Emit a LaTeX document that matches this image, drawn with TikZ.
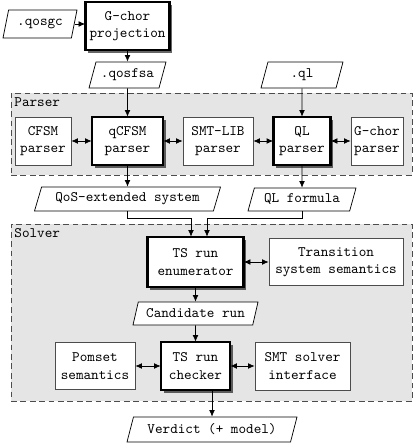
\documentclass[tikz,border=0pt]{standalone}
\usetikzlibrary{shapes.geometric,shadows,arrows.meta}
\newcommand\pxl{0.0243cm}
\begin{document}
\begin{tikzpicture}[x=0.0243cm,y=-0.0243cm,
  box/.style={draw=black!70, line width=0.5pt, fill=white, align=center,
    font=\ttfamily, inner sep=0pt, minimum height=48*\pxl},
  mainbox/.style={box, draw=black,
    drop shadow={shadow xshift=1.8pt, shadow yshift=-1.8pt, fill=black, opacity=0.6},
    postaction={draw=black, line width=1.6pt}},
  io/.style={draw=black, line width=0.5pt, fill=white, font=\ttfamily,
    trapezium, trapezium left angle=60, trapezium right angle=120,
    trapezium stretches body, inner sep=0pt},
  group/.style={draw=black!70, line width=0.6pt, dash pattern=on 4pt off 2.5pt,
    fill=black!10, inner sep=0pt},
  grouplbl/.style={anchor=north west, font=\ttfamily, inner xsep=2.5pt, inner ysep=3.5pt},
  arr/.style={-{Latex[length=4.5pt,width=4pt]}, line width=0.5pt},
  biarr/.style={{Latex[length=4.5pt,width=4pt]}-{Latex[length=4.5pt,width=4pt]}, line width=0.5pt}]
\useasboundingbox (0,0) rectangle (415,445);
% containers
\node[group, minimum width=401*\pxl, minimum height=82*\pxl] (parser) at (211.5,134) {};
\node[grouplbl] (parserlbl) at (parser.north west) {Parser};
\node[group, minimum width=401*\pxl, minimum height=177*\pxl] (solver) at (211.5,312.5) {};
\node[grouplbl] (solverlbl) at (solver.north west) {Solver};
% top
\node[mainbox, minimum width=84*\pxl] (gchorproj) at (127.5,26) {G-chor\\projection};
\node[io, minimum width=74*\pxl, minimum height=28*\pxl] (qosgc) at (40,24) {.qosgc};
\node[io, minimum width=77*\pxl, minimum height=26*\pxl] (qosfsa) at (127.5,75) {.qosfsa};
\node[io, minimum width=82*\pxl, minimum height=26*\pxl] (ql) at (302,75) {.ql};
% parsers
\node[box, minimum width=56*\pxl] (cfsm) at (43,141) {CFSM\\parser};
\node[mainbox, minimum width=71*\pxl] (qcfsm) at (127.5,141) {qCFSM\\parser};
\node[box, minimum width=70*\pxl] (smtlib) at (218,141) {SMT-LIB\\parser};
\node[mainbox, minimum width=57*\pxl] (qlparser) at (302,141) {QL\\parser};
\node[box, minimum width=52*\pxl] (gchorparser) at (377,141) {G-chor\\parser};
% intermediate
\node[io, minimum width=186*\pxl, minimum height=24*\pxl] (qos) at (127.5,199) {QoS-extended system};
\node[io, minimum width=108*\pxl, minimum height=23*\pxl] (qlformula) at (302,199.5) {QL formula};
% solver
\node[mainbox, minimum width=96*\pxl, minimum height=50*\pxl] (enum) at (195.5,262) {TS run\\enumerator};
\node[box, minimum width=134*\pxl, minimum height=47*\pxl] (tss) at (336,262) {Transition\\system semantics};
\node[io, minimum width=125*\pxl, minimum height=23*\pxl] (cand) at (195.5,313.5) {Candidate run};
\node[box, minimum width=80*\pxl, minimum height=47*\pxl] (pomset) at (95,366) {Pomset\\semantics};
\node[mainbox, minimum width=69*\pxl] (checker) at (195.5,366) {TS run\\checker};
\node[box, minimum width=95*\pxl] (smtsolver) at (302.5,366) {SMT solver\\interface};
\node[io, minimum width=170*\pxl, minimum height=25*\pxl] (verdict) at (212,429.5) {Verdict (+ model)};
% connectors
\draw[arr] (qosgc.east) -- (qosgc.east -| gchorproj.west);
\draw[arr] (gchorproj.south) -- (qosfsa.north);
\draw[arr] (qosfsa.south) -- (qcfsm.north);
\draw[arr] (ql.south) -- (qlparser.north);
\draw[biarr] (cfsm.east) -- (qcfsm.west);
\draw[biarr] (qcfsm.east) -- (smtlib.west);
\draw[biarr] (smtlib.east) -- (qlparser.west);
\draw[biarr] (qlparser.east) -- (gchorparser.west);
\draw[arr] (qcfsm.south) -- (qos.north);
\draw[arr] (qlparser.south) -- (qlformula.north);
\coordinate (ja) at (191,218);
\coordinate (jb) at (207,218);
\draw[arr] (qos.south) |- (ja) -- (ja |- enum.north);
\draw[arr] (qlformula.south) |- (jb) -- (jb |- enum.north);
\draw[biarr] (enum.east) -- (tss.west);
\draw[arr] (enum.south) -- (cand.north);
\draw[arr] (cand.south) -- (checker.north);
\draw[biarr] (pomset.east) -- (checker.west);
\draw[biarr] (checker.east) -- (smtsolver.west);
\draw[arr] (checker.south -| verdict.north) -- (verdict.north);
\end{tikzpicture}
\end{document}
